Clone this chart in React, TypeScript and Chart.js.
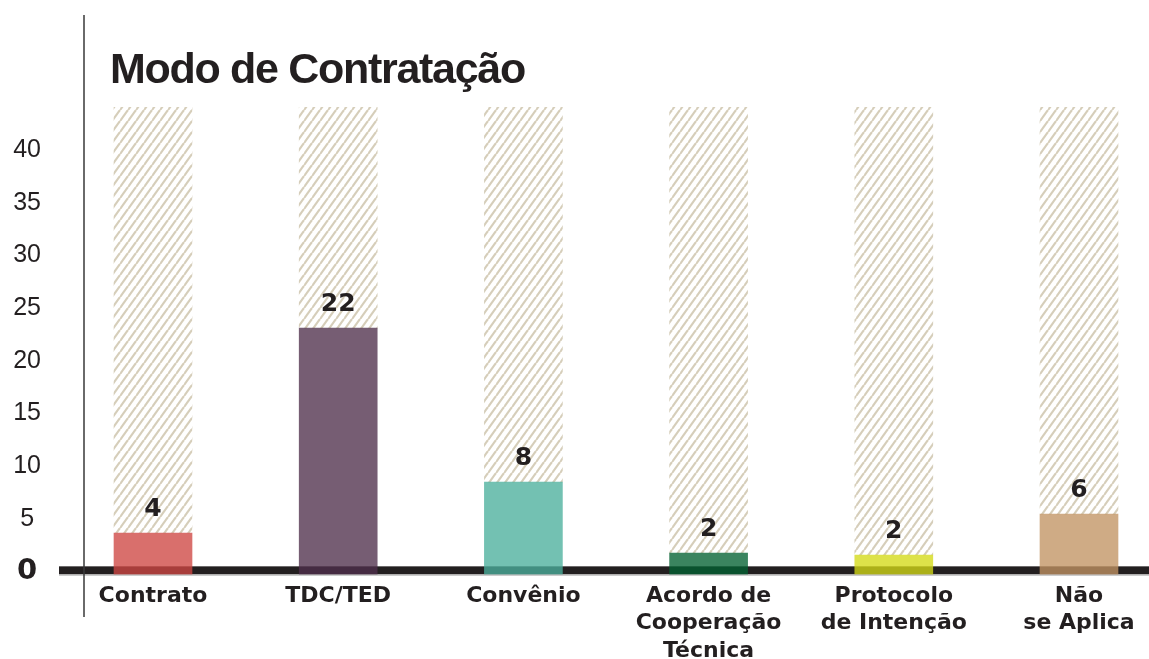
import React, { useEffect, useRef } from "react";
import { Chart, registerables } from "chart.js";

Chart.register(...registerables);

const chartTitle = "Modo de Contratação";
const categories: (string | string[])[] = [
  "Contrato",
  "TDC/TED",
  "Convênio",
  ["Acordo de", "Cooperação", "Técnica"],
  ["Protocolo", "de Intenção"],
  ["Não", "se Aplica"],
];
// bar heights as drawn on the axis
const barValues = [3.64, 23.1, 8.48, 1.74, 1.55, 5.44];
// printed value labels
const valueLabels = ["4", "22", "8", "2", "2", "6"];
const barColors = [
  "rgba(206,71,66,0.78)",
  "rgba(79,48,76,0.78)",
  "rgba(76,176,156,0.78)",
  "rgba(4,97,50,0.78)",
  "rgba(212,218,22,0.78)",
  "rgba(194,148,99,0.78)",
];
const trackTop = 44.1;
const yTicks = [0, 5, 10, 15, 20, 25, 30, 35, 40];
const Y_MIN = -0.3;
const Y_MAX = 44.1;
const X_MIN = -0.3726;
const X_MAX = 5.378;

const INK = "#231f20";

function makeHatch(): CanvasPattern | string {
  const w = 8;
  const h = 11;
  const c = document.createElement("canvas");
  c.width = w;
  c.height = h;
  const g = c.getContext("2d");
  if (!g) return "rgb(214,206,186)";
  g.fillStyle = "#ffffff";
  g.fillRect(0, 0, w, h);
  g.strokeStyle = "rgb(214,206,186)";
  g.lineWidth = 2.2;
  for (let k = -1; k <= 2; k++) {
    g.beginPath();
    g.moveTo(k * w, 0);
    g.lineTo(k * w - w, h);
    g.stroke();
  }
  const p = g.createPattern(c, "repeat");
  return p || "rgb(214,206,186)";
}

const decorPlugin = {
  id: "decor",
  afterDatasetDraw(chart: any, args: any) {
    if (args.index !== 1) return;
    const ctx = chart.ctx;
    const y0 = chart.scales.y.getPixelForValue(0);
    ctx.save();
    ctx.fillStyle = INK;
    ctx.fillRect(chart.chartArea.left - 25, y0 - 5, chart.width, 8);
    ctx.fillStyle = "rgba(170,170,170,0.7)";
    ctx.fillRect(chart.chartArea.left - 25, y0 + 3, chart.width, 1.5);
    ctx.restore();
  },
  afterDatasetsDraw(chart: any) {
    const ctx = chart.ctx;
    const meta = chart.getDatasetMeta(0);
    ctx.save();
    ctx.fillStyle = INK;
    ctx.font = 'bold 25px "DejaVu Sans"';
    ctx.textAlign = "center";
    ctx.textBaseline = "middle";
    meta.data.forEach((bar: any, i: number) => {
      ctx.fillText(valueLabels[i], bar.x, bar.y - 24);
    });
    ctx.restore();
  },
  afterDraw(chart: any) {
    const ctx = chart.ctx;
    const left = chart.chartArea.left;
    ctx.save();
    ctx.fillStyle = "#3a3a3a";
    ctx.fillRect(left - 0.75, 15, 1.5, 602);
    ctx.fillStyle = INK;
    ctx.font = 'bold 43px "Liberation Sans"';
    try {
      (ctx as any).letterSpacing = "-1.3px";
    } catch (e) {}
    ctx.textAlign = "left";
    ctx.textBaseline = "alphabetic";
    ctx.fillText(chartTitle, left + 26, 83);
    ctx.restore();
  },
};

export default function App() {
  const ref = useRef<HTMLCanvasElement | null>(null);

  useEffect(() => {
    if (!ref.current) return;
    const hatch = makeHatch();
    const chart = new Chart(ref.current, {
      type: "bar",
      data: {
        datasets: [
          {
            data: barValues.map((v, i) => ({ x: i, y: v })),
            backgroundColor: barColors,
            borderWidth: 0,
            borderSkipped: false,
            barThickness: 78,
            grouped: false,
            base: Y_MIN,
            order: 0,
          } as any,
          {
            data: barValues.map((v, i) => ({ x: i, y: [v, trackTop] })),
            backgroundColor: hatch as any,
            borderWidth: 0,
            barThickness: 78,
            grouped: false,
            order: 1,
          } as any,
        ],
      },
      options: {
        responsive: false,
        animation: false,
        devicePixelRatio: 1,
        layout: { padding: { top: 107, left: 0, right: 0, bottom: 0 } },
        plugins: {
          legend: { display: false },
          tooltip: { enabled: false },
          title: { display: false },
        },
        scales: {
          x: {
            type: "linear",
            offset: false,
            min: X_MIN,
            max: X_MAX,
            grid: { display: false, drawTicks: false, offset: false },
            border: { display: false },
            afterBuildTicks: (scale: any) => {
              scale.ticks = categories.map((_, i) => ({ value: i }));
            },
            afterFit: (scale: any) => {
              scale.height = 84.5;
            },
            ticks: {
              autoSkip: false,
              maxRotation: 0,
              minRotation: 0,
              padding: 8,
              color: INK,
              font: { family: '"DejaVu Sans"', size: 22, weight: "bold", lineHeight: 1.25 },
              callback: (value: any) => categories[Math.round(Number(value))] as any,
            },
          },
          y: {
            type: "linear",
            min: Y_MIN,
            max: Y_MAX,
            grid: { display: false, drawTicks: false },
            border: { display: false },
            afterBuildTicks: (scale: any) => {
              scale.ticks = yTicks.map((v) => ({ value: v }));
            },
            afterFit: (scale: any) => {
              scale.width = 84;
            },
            ticks: {
              crossAlign: "center",
              padding: 43,
              color: INK,
              font: (ctx: any) =>
                ctx.tick && ctx.tick.value === 0
                  ? { family: '"DejaVu Sans"', size: 29, weight: "bold" }
                  : { family: '"Liberation Sans"', size: 25, weight: "normal" },
              callback: (value: any) => String(value),
            },
          },
        },
      } as any,
      plugins: [decorPlugin],
    });
    return () => chart.destroy();
  }, []);

  return (
    <div style={{ position: "fixed", left: 0, top: 0, width: 1149, height: 659, background: "#fff", overflow: "hidden" }}>
      <canvas ref={ref} width={1149} height={659} style={{ display: "block", width: 1149, height: 659 }} />
    </div>
  );
}
